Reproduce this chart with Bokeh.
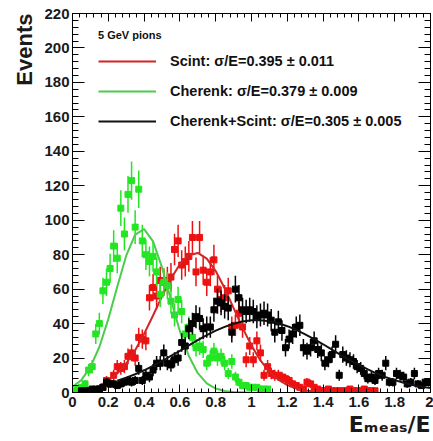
import numpy as np
from bokeh.plotting import figure
from bokeh.models import (ColumnDataSource, Range1d, LinearAxis, SingleIntervalTicker,
                          Legend, LegendItem, Title, NumeralTickFormatter, CustomJSTickFormatter)
from bokeh.embed import file_html
from bokeh.resources import INLINE

# ---------------- data ----------------
bin_width = 0.02
n_bins = 100
bin_centers = np.round(np.arange(n_bins) * bin_width + bin_width / 2, 2)

scint_counts = [0, 0, 0, 1, 1, 1, 2, 2, 3, 7,
                5, 10, 15, 14, 15, 21, 23, 20, 32, 31,
                30, 55, 61, 56, 65, 64, 65, 67, 83, 88,
                74, 76, 79, 90, 70, 90, 71, 64, 70, 77,
                60, 54, 55, 59, 38, 39, 46, 38, 19, 27,
                19, 30, 23, 10, 15, 11, 10, 10, 9, 8,
                7, 5, 4, 3, 2, 6, 5, 3, 2, 1,
                1, 2, 1, 1, 1, 1, 1, 2, 1, 1,
                1, 2, 1, 1, 1, 0, 0, 0, 0, 0,
                0, 0, 0, 0, 0, 0, 0, 0, 0, 0]

cherenk_counts = [1, 2, 3, 5, 13, 15, 34, 40, 59, 64,
                  72, 85, 78, 107, 92, 115, 123, 96, 118, 88,
                  80, 76, 79, 70, 57, 64, 62, 53, 45, 54,
                  47, 34, 38, 32, 26, 27, 25, 17, 20, 24,
                  20, 21, 17, 11, 18, 9, 6, 4, 4, 3,
                  3, 3, 2, 2, 2, 0, 0, 0, 0, 0,
                  0, 0, 0, 0, 0, 0, 0, 0, 0, 0,
                  0, 0, 0, 0, 0, 0, 0, 0, 0, 0,
                  0, 0, 0, 0, 0, 0, 0, 0, 0, 0,
                  0, 0, 0, 0, 0, 0, 0, 0, 0, 0]

combined_counts = [0, 0, 1, 1, 1, 2, 1, 2, 3, 6,
                   5, 5, 4, 5, 6, 7, 6, 7, 14, 7,
                   10, 9, 13, 17, 17, 23, 17, 16, 19, 20,
                   29, 27, 37, 40, 44, 43, 37, 38, 38, 48,
                   53, 52, 50, 49, 35, 60, 55, 48, 47, 48,
                   47, 44, 45, 46, 45, 42, 35, 41, 36, 26,
                   31, 34, 38, 39, 26, 24, 26, 30, 25, 23,
                   17, 19, 22, 28, 10, 22, 20, 19, 18, 15,
                   14, 11, 8, 9, 7, 11, 10, 17, 6, 6,
                   11, 10, 9, 5, 6, 11, 5, 4, 6, 6]

scint_fit_x = np.round(np.arange(28) * 0.05 + 0.05, 2)
scint_fit_y = [1.2, 2.2, 4.0, 6.8, 11.0, 16.8, 24.5, 34.0, 44.7, 55.8,
               66.2, 74.5, 79.7, 81.0, 77.7, 70.5, 60.5, 49.0, 37.5, 27.2,
               18.6, 12.0, 7.4, 4.3, 2.4, 1.2, 0.6, 0.3]

cherenk_fit_x = np.round(np.arange(21) * 0.05, 2)
cherenk_fit_y = [3.2, 7.3, 14.7, 26.4, 42.6, 61.4, 79.4, 91.7, 94.8, 87.7,
                 72.6, 53.8, 35.6, 21.2, 11.2, 5.3, 2.3, 0.9, 0.3, 0.1, 0.0]

combined_fit_x = np.round(np.arange(36) * 0.05 + 0.25, 2)
combined_fit_y = [6.9, 8.6, 10.6, 12.9, 15.4, 18.2, 21.2, 24.2, 27.3, 30.4,
                  33.3, 35.9, 38.1, 39.9, 41.2, 41.9, 42.0, 41.4, 40.2, 38.5,
                  36.4, 33.8, 31.0, 28.0, 24.9, 21.7, 18.8, 16.0, 13.4, 11.0,
                  8.9, 7.2, 5.7, 4.4, 3.4, 2.6]

legend_title = "5 GeV pions"
legend_labels = ["Scint: σ/E=0.395 ± 0.011",
                 "Cherenk: σ/E=0.379 ± 0.009",
                 "Cherenk+Scint: σ/E=0.305 ± 0.005"]
x_title = "Eₘₑₐₛ/E"
y_title = "Events"

FONT = "Liberation Sans"
RED, GREEN, BLACK = "#ee1111", "#22e622", "#000000"
RED_FIT, GREEN_FIT, BLACK_FIT = "#d42424", "#4ccc4c", "#111111"

# ---------------- figure ----------------
p = figure(width=433, height=441, x_range=Range1d(0, 2), y_range=Range1d(0, 220),
           output_backend="svg", toolbar_location=None,
           min_border_left=72, min_border_right=3, min_border_top=13, min_border_bottom=49)
p.grid.visible = False
p.outline_line_color = "black"
p.background_fill_color = "white"
p.border_fill_color = "white"


def style_axis(ax, major_in, minor_in, show_labels=True):
    ax.axis_line_color = "black"
    ax.axis_line_width = 1
    ax.major_tick_line_color = "black"
    ax.minor_tick_line_color = "black"
    ax.major_tick_in = major_in
    ax.major_tick_out = 0
    ax.minor_tick_in = minor_in
    ax.minor_tick_out = 0
    if show_labels:
        ax.major_label_text_font = FONT
        ax.major_label_text_font_style = "bold"
        ax.major_label_text_font_size = "15px"
        ax.major_label_text_color = "#1a1a1a"
    else:
        ax.formatter = CustomJSTickFormatter(code="return ''")
        ax.major_label_standoff = 0


p.xaxis.ticker = SingleIntervalTicker(interval=0.2, num_minor_ticks=5)
p.xaxis.formatter = NumeralTickFormatter(format="0.[0]")
p.xaxis.major_label_standoff = 4
style_axis(p.xaxis[0], 8, 4)
p.yaxis.ticker = SingleIntervalTicker(interval=20, num_minor_ticks=5)
p.yaxis.major_label_standoff = 3
style_axis(p.yaxis[0], 12, 6)

top_axis = LinearAxis(ticker=SingleIntervalTicker(interval=0.2, num_minor_ticks=5))
style_axis(top_axis, 8, 4, show_labels=False)
p.add_layout(top_axis, "above")
right_axis = LinearAxis(ticker=SingleIntervalTicker(interval=20, num_minor_ticks=5))
style_axis(right_axis, 12, 6, show_labels=False)
p.add_layout(right_axis, "right")


def draw_hist(counts, color):
    c = np.asarray(counts, dtype=float)
    m = c > 0
    err = np.sqrt(c[m])
    src = ColumnDataSource(dict(x=bin_centers[m], y=c[m], lo=c[m] - err, hi=c[m] + err))
    p.segment(x0="x", y0="lo", x1="x", y1="hi", source=src, line_color=color, line_width=1.5)
    p.scatter("x", "y", source=src, marker="square", size=6, fill_color=color, line_color=color)


draw_hist(scint_counts, RED)
r_scint = p.line(scint_fit_x, scint_fit_y, line_color=RED_FIT, line_width=2)
draw_hist(cherenk_counts, GREEN)
r_cher = p.line(cherenk_fit_x, cherenk_fit_y, line_color=GREEN_FIT, line_width=2)
draw_hist(combined_counts, BLACK)
r_comb = p.line(combined_fit_x, combined_fit_y, line_color=BLACK_FIT, line_width=2)

legend = Legend(items=[LegendItem(label=legend_labels[0], renderers=[r_scint]),
                       LegendItem(label=legend_labels[1], renderers=[r_cher]),
                       LegendItem(label=legend_labels[2], renderers=[r_comb])],
                location=(26, 256), title=legend_title,
                title_text_font=FONT, title_text_font_size="11px", title_text_font_style="bold",
                title_text_color="#111111", title_standoff=5,
                label_text_font=FONT, label_text_font_size="14.5px", label_text_font_style="bold",
                label_text_color="#111111",
                glyph_width=58, glyph_height=30, label_height=30, spacing=0, padding=0, margin=0,
                label_standoff=14, border_line_alpha=0, background_fill_alpha=0)
p.add_layout(legend)

# axis titles (ROOT style: right / top aligned)
p.add_layout(Title(text=y_title, align="right", text_font=FONT, text_font_style="bold",
                   text_font_size="22px", text_color="#1a1a1a", standoff=10), "left")
p.add_layout(Title(text=x_title, align="right", text_font="DejaVu Sans", text_font_style="bold",
                   text_font_size="22px", text_color="#1a1a1a", standoff=0), "below")

open("out.html", "w").write(file_html(p, INLINE))
